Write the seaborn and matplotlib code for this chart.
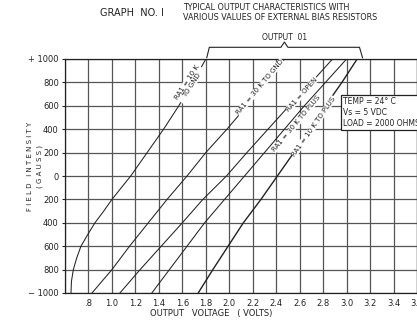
import numpy as np
import pandas as pd
import matplotlib
matplotlib.use("Agg")
import matplotlib.pyplot as plt
import seaborn as sns

# field intensity levels (gauss)
gauss = [-1000, -800, -600, -400, -200, 0, 200, 400, 600, 800, 1000]

# output voltage for each bias resistor setting
gauss_10k_gnd = [-1000, -900, -800, -700, -600, -490, -400, -300, -200, -100, 0, 200, 400, 600, 800, 1000]
volts_10k_gnd = [0.651, 0.655, 0.671, 0.70, 0.736, 0.80, 0.855, 0.93, 1.0, 1.08, 1.16, 1.30, 1.44, 1.57, 1.69, 1.80]
volts_30k_gnd = [0.83, 1.0, 1.15, 1.31, 1.47, 1.64, 1.80, 1.98, 2.15, 2.31, 2.47]
volts_open = [1.068, 1.24, 1.42, 1.60, 1.775, 1.976, 2.15, 2.33, 2.51, 2.70, 2.88]
volts_30k_plus = [1.34, 1.49, 1.64, 1.79, 1.96, 2.13, 2.30, 2.47, 2.64, 2.82, 3.00]
volts_10k_plus = [1.735, 1.86, 1.99, 2.12, 2.27, 2.41, 2.55, 2.69, 2.82, 2.96, 3.09]

x_ticks = [0.6, 0.8, 1.0, 1.2, 1.4, 1.6, 1.8, 2.0, 2.2, 2.4, 2.6, 2.8, 3.0, 3.2, 3.4, 3.6]
x_labels = ['', '.8', '1.0', '1.2', '1.4', '1.6', '1.8', '2.0', '2.2', '2.4', '2.6', '2.8', '3.0', '3.2', '3.4', '3.6']
y_ticks = gauss
y_labels = ['\u2212 1000', '800', '600', '400', '200', '0', '200', '400', '600', '800', '+ 1000']

curves = [
    ("RA1 = 10 K TO GND", volts_10k_gnd, gauss_10k_gnd, 0.75),
    ("RA1 = 30 K TO GND", volts_30k_gnd, gauss, 0.75),
    ("RA1 = OPEN", volts_open, gauss, 0.75),
    ("RA1 = 30 K TO PLUS", volts_30k_plus, gauss, 0.75),
    ("RA1 = 10 K TO PLUS", volts_10k_plus, gauss, 1.0),
]

sns.set_theme(style="white")
plt.rcParams['font.family'] = ['DejaVu Sans']
ink = '#222222'

fig = plt.figure(figsize=(4.17, 3.2), dpi=100)
ax = fig.add_axes([65 / 417, 27 / 320, 352 / 417, 234 / 320])

for name, v, g, lw in curves:
    df = pd.DataFrame({"volts": v, "gauss": g})
    sns.lineplot(data=df, x="volts", y="gauss", ax=ax, color=ink, linewidth=lw,
                 estimator=None, sort=False, legend=False)

ax.set_xlim(0.6, 3.6)
ax.set_ylim(-1000, 1000)
ax.set_xticks(x_ticks)
ax.set_xticklabels(x_labels)
ax.set_yticks(y_ticks)
ax.set_yticklabels(y_labels)
ax.tick_params(axis='both', labelsize=6, colors=ink, length=2.5, width=0.8, pad=2)
ax.tick_params(axis='x', length=0, pad=4)
ax.tick_params(axis='y', direction='out', left=True)
ax.grid(True, color='#555555', linewidth=0.9)
for s in ax.spines.values():
    s.set_color(ink)
    s.set_linewidth(0.9)
ax.set_xlabel('OUTPUT   VOLTAGE   ( VOLTS)', fontsize=6, color=ink)
ax.xaxis.set_label_coords(0.415, -0.07)
ax.set_ylabel('')

fig.text(30 / 417, 1 - 166 / 320, 'F I E L D   I N T E N S I T Y', rotation=90, fontsize=5,
         color=ink, ha='center', va='center')
fig.text(40 / 417, 1 - 166 / 320, '( G A U S S )', rotation=90, fontsize=5,
         color=ink, ha='center', va='center')

# labels along the curves
box = dict(facecolor='white', edgecolor='none', boxstyle='square,pad=0.05')
ax.text(1.66, 790, 'RA1 = 10 K\nTO GND', rotation=57, fontsize=5, color=ink,
        ha='center', va='center', linespacing=0.9, bbox=box)
ax.text(2.26, 760, 'RA1 = 30 K TO GND', rotation=50, fontsize=5, color=ink,
        ha='center', va='center', bbox=box)
ax.text(2.62, 700, 'RA1 = OPEN', rotation=48, fontsize=5, color=ink,
        ha='center', va='center', bbox=box)
ax.text(2.57, 445, 'RA1 = 30 K TO PLUS', rotation=50, fontsize=5, color=ink,
        ha='center', va='center', bbox=box)
ax.text(2.72, 425, 'RA1 = 10 K TO PLUS', rotation=55, fontsize=5, color=ink,
        ha='center', va='center', bbox=box)

# conditions box
ax.text(2.97, 675, 'TEMP = 24\u00b0 C\nVs = 5 VDC\nLOAD = 2000 OHMS', fontsize=5.5, color=ink,
        ha='left', va='top', linespacing=1.3,
        bbox=dict(facecolor='white', edgecolor=ink, linewidth=0.9, boxstyle='square,pad=0.25'))

# brace over output region
bx = [1.808, 1.83, 2.44, 2.47, 2.50, 3.11, 3.136]
by = [1010, 1100, 1100, 1145, 1100, 1100, 1010]
ax.plot(bx, by, color=ink, linewidth=0.8, clip_on=False)
ax.text(2.47, 1180, 'OUTPUT  01', fontsize=5.5, color=ink, ha='center', va='center')

fig.text(132 / 417, 1 - 13 / 320, 'GRAPH  NO. I', fontsize=7, color=ink, ha='center', va='center')
fig.text(183 / 417, 1 - 7 / 320, 'TYPICAL OUTPUT CHARACTERISTICS WITH', fontsize=5.8, color=ink,
         ha='left', va='center')
fig.text(183 / 417, 1 - 17 / 320, 'VARIOUS VALUES OF EXTERNAL BIAS RESISTORS', fontsize=5.8, color=ink,
         ha='left', va='center')

fig.savefig('out.png', dpi=100, facecolor='white')
